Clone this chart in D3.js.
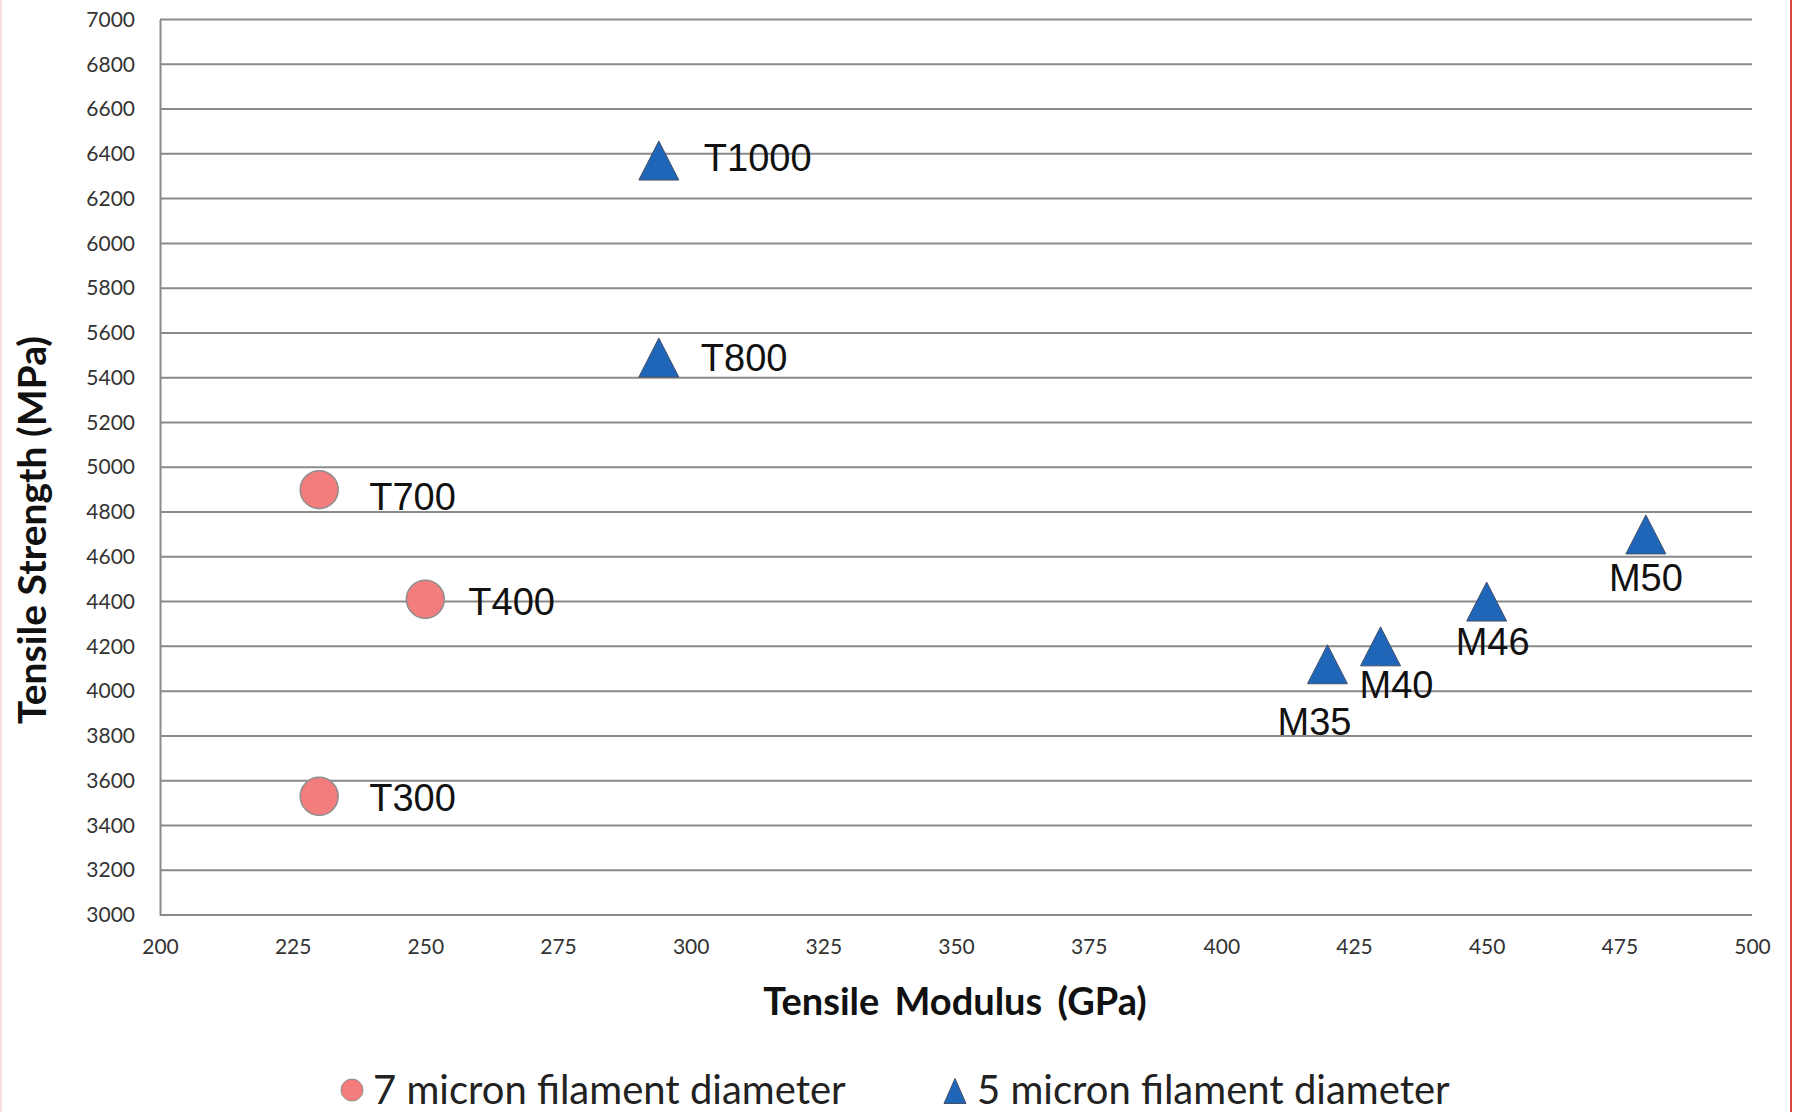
<!DOCTYPE html>
<html>
<head>
<meta charset="utf-8">
<script src="https://cdn.jsdelivr.net/npm/d3@7"></script>
<style>
  body { margin: 0; background: #fff; }
  svg { display: block; }
</style>
</head>
<body>
<svg id="chart" width="1793" height="1112"></svg>
<script>
// data
const names7 = ['T300', 'T700', 'T400'];
const modulus7 = [230, 230, 250];
const strength7 = [3530, 4900, 4410];

const names5 = ['T800', 'T1000', 'M35', 'M40', 'M46', 'M50'];
const modulus5 = [294, 294, 420, 430, 450, 480];
const strength5 = [5490, 6370, 4120, 4200, 4400, 4700];

const xTicks = [200, 225, 250, 275, 300, 325, 350, 375, 400, 425, 450, 475, 500];
const yTicks = d3.range(3000, 7001, 200);

const legendLabels = ['7 micron filament diameter', '5 micron filament diameter'];

// manual label nudges, like the ones dragged around in the original
const labelOffset = {
    T300: [50, 1], T700: [50, 7], T400: [43, 2],
    T800: [42, 0], T1000: [45, -3],
    M35: [-13, 57], M40: [16, 38], M46: [6, 40], M50: [0, 43]
};

const W = 1793, H = 1112;
const margin = { top: 19.5, right: 41, bottom: 197, left: 160 };
const width = W - margin.left - margin.right;
const height = H - margin.top - margin.bottom;

const svg = d3.select('#chart');

// faint frame edges of the screenshot
svg.append('line').attr('x1', 1).attr('x2', 1).attr('y1', 0).attr('y2', H)
    .attr('stroke', '#f6dede').attr('stroke-width', 2);
svg.append('line').attr('x1', 1791).attr('x2', 1791).attr('y1', 0).attr('y2', H)
    .attr('stroke', '#d9443c').attr('stroke-width', 2);

const g = svg.append('g')
    .attr('transform', `translate(${margin.left}, ${margin.top})`);

const x = d3.scaleLinear().domain([200, 500]).range([0, width]);
const y = d3.scaleLinear().domain([3000, 7000]).range([height, 0]);

// horizontal grid
g.append('g')
    .selectAll('line')
    .data(yTicks)
    .enter()
    .append('line')
    .attr('x1', 0)
    .attr('x2', width)
    .attr('y1', d => y(d))
    .attr('y2', d => y(d))
    .attr('stroke', '#8a8a8a')
    .attr('stroke-width', 2);

// y axis
const yAxis = g.append('g')
    .call(d3.axisLeft(y).tickValues(yTicks).tickFormat(d3.format('d')).tickSize(0).tickPadding(25));
yAxis.select('.domain').attr('stroke', '#8a8a8a').attr('stroke-width', 2);
yAxis.selectAll('text')
    .attr('font-family', 'Lato, sans-serif')
    .attr('font-size', 21)
    .attr('fill', '#333');

// x axis
const xAxis = g.append('g')
    .attr('transform', `translate(0, ${height})`)
    .call(d3.axisBottom(x).tickValues(xTicks).tickSize(0).tickPadding(24));
xAxis.select('.domain').remove();
xAxis.selectAll('text')
    .attr('font-family', 'Lato, sans-serif')
    .attr('font-size', 21)
    .attr('fill', '#333');

// triangle marker path, centred on its bounding box
const tri = (w, h) => `M0,${-h / 2}L${w / 2},${h / 2}L${-w / 2},${h / 2}Z`;

const pts7 = names7.map((n, i) => ({ name: n, x: modulus7[i], y: strength7[i] }));
const pts5 = names5.map((n, i) => ({ name: n, x: modulus5[i], y: strength5[i] }));

g.append('g')
    .selectAll('circle')
    .data(pts7)
    .enter()
    .append('circle')
    .attr('cx', d => x(d.x))
    .attr('cy', d => y(d.y))
    .attr('r', 19)
    .attr('fill', '#f37c7c')
    .attr('stroke', '#8f8f8f')
    .attr('stroke-width', 1.5);

g.append('g')
    .selectAll('path')
    .data(pts5)
    .enter()
    .append('path')
    .attr('transform', d => `translate(${x(d.x)}, ${y(d.y)})`)
    .attr('d', tri(40, 39))
    .attr('fill', '#1f65b8')
    .attr('stroke', '#44506a')
    .attr('stroke-width', 1);

// point labels
g.append('g')
    .selectAll('text')
    .data(pts7.concat(pts5))
    .enter()
    .append('text')
    .attr('x', d => x(d.x) + labelOffset[d.name][0])
    .attr('y', d => y(d.y) + labelOffset[d.name][1])
    .attr('dy', '0.36em')
    .attr('text-anchor', d => d.name[0] === 'M' ? 'middle' : 'start')
    .attr('font-family', '"Liberation Sans", Arial, sans-serif')
    .attr('font-size', 38)
    .attr('fill', '#111')
    .text(d => d.name);

// axis titles
svg.append('text')
    .attr('x', 955)
    .attr('y', 1002)
    .attr('dy', '0.35em')
    .attr('text-anchor', 'middle')
    .attr('font-family', 'Lato, sans-serif')
    .attr('font-weight', 'bold')
    .attr('font-size', 38)
    .attr('word-spacing', 6)
    .attr('fill', '#111')
    .text('Tensile Modulus (GPa)');

svg.append('text')
    .attr('transform', 'translate(32, 530) rotate(-90)')
    .attr('dy', '0.35em')
    .attr('text-anchor', 'middle')
    .attr('font-family', 'Lato, sans-serif')
    .attr('font-weight', 'bold')
    .attr('font-size', 39)
    .attr('fill', '#111')
    .text('Tensile Strength (MPa)');

// legend
const legend = svg.append('g').attr('transform', 'translate(0, 1090)');
legend.append('circle')
    .attr('cx', 352).attr('cy', 0).attr('r', 11)
    .attr('fill', '#f37c7c').attr('stroke', '#8f8f8f').attr('stroke-width', 1);
legend.append('path')
    .attr('transform', 'translate(955, 1)')
    .attr('d', tri(22, 25))
    .attr('fill', '#1f65b8').attr('stroke', '#44506a').attr('stroke-width', 1);
legend.selectAll('text')
    .data(legendLabels)
    .enter()
    .append('text')
    .attr('x', (d, i) => i === 0 ? 373 : 977)
    .attr('y', 0)
    .attr('dy', '0.35em')
    .attr('font-family', 'Lato, sans-serif')
    .attr('font-size', 40)
    .attr('fill', '#222')
    .text(d => d);
</script>
</body>
</html>
